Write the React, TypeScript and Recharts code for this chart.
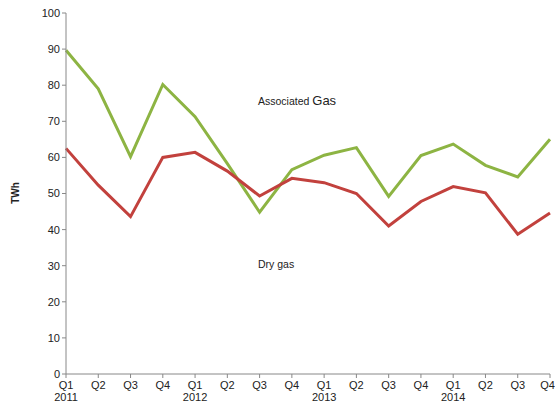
import React from "react";
import { LineChart, Line, XAxis, YAxis } from "recharts";

const quarters = ["Q1", "Q2", "Q3", "Q4", "Q1", "Q2", "Q3", "Q4", "Q1", "Q2", "Q3", "Q4", "Q1", "Q2", "Q3", "Q4"];
const years = ["2011", "", "", "", "2012", "", "", "", "2013", "", "", "", "2014", "", "", ""];
const associatedGas = [89.7, 79, 60.2, 80.2, 71.3, 58.3, 44.8, 56.6, 60.6, 62.7, 49.2, 60.5, 63.7, 57.8, 54.6, 65];
const dryGas = [62.5, 52.3, 43.6, 60, 61.4, 56.2, 49.3, 54.2, 53, 50, 41, 47.8, 51.9, 50.2, 38.7, 44.6];
const yTicks = [0, 10, 20, 30, 40, 50, 60, 70, 80, 90, 100];

const data = quarters.map((q, i) => ({
  idx: i,
  associated: associatedGas[i],
  dry: dryGas[i],
}));

const QuarterTick = (props: any) => {
  const { x, y, payload } = props;
  const i = payload.value;
  const last = i === quarters.length - 1;
  return (
    <g>
      <text
        x={last ? x + 5 : x}
        y={y + 9}
        textAnchor={last ? "end" : "middle"}
        fontSize={11}
        fill="#222"
      >
        {quarters[i]}
      </text>
      {years[i] && (
        <text x={x} y={y + 21} textAnchor="middle" fontSize={11} fill="#222">
          {years[i]}
        </text>
      )}
    </g>
  );
};

const App = () => {
  return (
    <div
      style={{
        position: "absolute",
        left: 0,
        top: 0,
        width: 555,
        height: 404,
        background: "#fff",
        fontFamily: "'Liberation Sans', Arial, sans-serif",
      }}
    >
      <LineChart
        width={555}
        height={404}
        data={data}
        margin={{ top: 13, right: 5, left: 0, bottom: 0 }}
      >
        <XAxis
          dataKey="idx"
          type="number"
          domain={[0, 15]}
          ticks={quarters.map((_, i) => i)}
          interval={0}
          tick={<QuarterTick />}
          tickSize={4}
          height={30}
          stroke="#888"
          tickLine={{ stroke: "#888" }}
        />
        <YAxis
          domain={[0, 100]}
          ticks={yTicks}
          interval={0}
          width={66}
          tickSize={4}
          stroke="#888"
          tick={{ fontSize: 11, fill: "#222" }}
        />
        <Line
          dataKey="associated"
          stroke="#8DB443"
          strokeWidth={3}
          dot={false}
          isAnimationActive={false}
        />
        <Line
          dataKey="dry"
          stroke="#C2413D"
          strokeWidth={3}
          dot={false}
          isAnimationActive={false}
        />
      </LineChart>
      <div
        style={{
          position: "absolute",
          left: 5,
          top: 193,
          transform: "translate(-50%, -50%) rotate(-90deg)",
          marginLeft: 10,
          fontSize: 10,
          fontWeight: "bold",
          color: "#222",
        }}
      >
        TWh
      </div>
      <div
        style={{
          position: "absolute",
          left: 258,
          top: 93,
          fontSize: 10.5,
          color: "#222",
          whiteSpace: "nowrap",
        }}
      >
        Associated <span style={{ fontSize: 13 }}>Gas</span>
      </div>
      <div
        style={{
          position: "absolute",
          left: 258,
          top: 258,
          fontSize: 10.5,
          color: "#222",
          whiteSpace: "nowrap",
        }}
      >
        Dry gas
      </div>
    </div>
  );
};

export default App;
